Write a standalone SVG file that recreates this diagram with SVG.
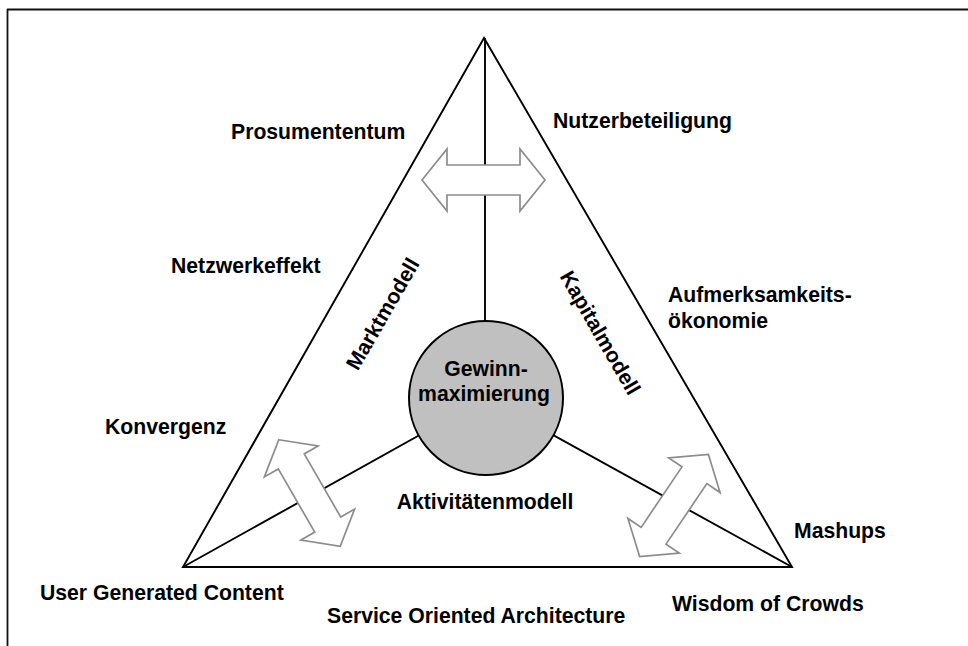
<svg xmlns="http://www.w3.org/2000/svg" width="968" height="646" viewBox="0 0 968 646">
<defs>
<style>
.ln{stroke:#000;stroke-width:1.9;fill:none}
.lbl{font-family:"Liberation Sans",Arial,sans-serif;font-weight:bold;font-size:21.2px;fill:#000}
.arr{fill:#fff;stroke:#8c8c8c;stroke-width:1.7;stroke-linejoin:miter}
</style>
<polygon id="dblarrow" class="arr" points="-61.5,0 -36.5,-31 -36.5,-15 36.5,-15 36.5,-31 61.5,0 36.5,31 36.5,15 -36.5,15 -36.5,31"/>
</defs>
<rect width="968" height="646" fill="#fff"/>
<g id="frame">
<line x1="7" y1="9.5" x2="968" y2="9.5" stroke="#111" stroke-width="1.8"/>
<line x1="7.5" y1="9" x2="7.5" y2="646" stroke="#111" stroke-width="1.8"/>
</g>
<g id="connectors">
<polygon class="ln" points="484,38 183,567 792,567"/>
<line class="ln" x1="485" y1="38" x2="485" y2="398"/>
<line class="ln" x1="486" y1="398" x2="183" y2="567"/>
<line class="ln" x1="486" y1="398" x2="792" y2="567"/>
</g>
<g id="arrow-top"><use href="#dblarrow" transform="translate(483.5,180)"/></g>
<g id="arrow-left"><use href="#dblarrow" transform="translate(309.5,493) rotate(60)"/></g>
<g id="arrow-right"><use href="#dblarrow" transform="translate(674,505.5) rotate(-56)"/></g>
<g id="center">
<circle cx="486" cy="398" r="77" fill="#c0c0c0" stroke="#000" stroke-width="2"/>
<text class="lbl" x="486" y="376" text-anchor="middle">Gewinn-</text>
<text class="lbl" x="484" y="401" text-anchor="middle">maximierung</text>
</g>
<g id="marktmodell"><text class="lbl" transform="translate(383,314) rotate(-60)" x="0" y="7" text-anchor="middle">Marktmodell</text></g>
<g id="kapitalmodell"><text class="lbl" transform="translate(600,333) rotate(60)" x="0" y="7" text-anchor="middle">Kapitalmodell</text></g>
<g id="aktivitaetenmodell"><text class="lbl" x="485" y="509" text-anchor="middle">Aktivitätenmodell</text></g>
<g id="prosumententum"><text class="lbl" x="231" y="139">Prosumententum</text></g>
<g id="nutzerbeteiligung"><text class="lbl" x="553" y="128">Nutzerbeteiligung</text></g>
<g id="netzwerkeffekt"><text class="lbl" x="171" y="273">Netzwerkeffekt</text></g>
<g id="aufmerksamkeit"><text class="lbl" x="668" y="302">Aufmerksamkeits-</text><text class="lbl" x="668" y="328">ökonomie</text></g>
<g id="konvergenz"><text class="lbl" x="105" y="434">Konvergenz</text></g>
<g id="mashups"><text class="lbl" x="794" y="538">Mashups</text></g>
<g id="ugc"><text class="lbl" x="40" y="600">User Generated Content</text></g>
<g id="soa"><text class="lbl" x="327" y="623">Service Oriented Architecture</text></g>
<g id="woc"><text class="lbl" x="672" y="611">Wisdom of Crowds</text></g>
</svg>
